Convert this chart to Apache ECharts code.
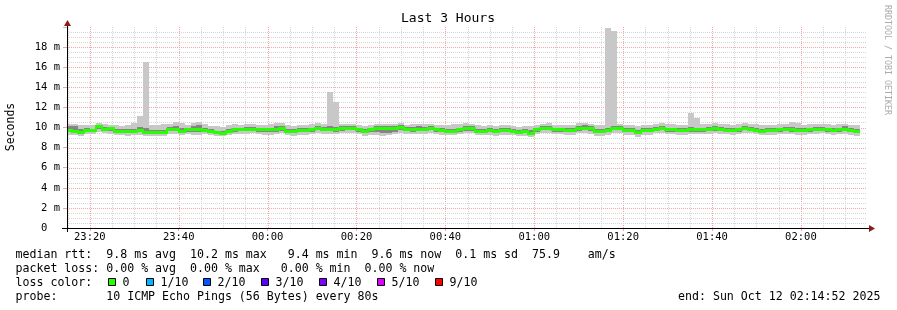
<!DOCTYPE html>
<html><head><meta charset="utf-8">
<script src="https://cdn.jsdelivr.net/npm/echarts@6/dist/echarts.min.js"></script>
<style>html,body{margin:0;padding:0;background:#fff}#c{width:897px;height:310px}</style>
</head><body><div id="c"></div>
<script>
// ---- data ----
const chartTitle = 'Last 3 Hours';
const yAxisName = 'Seconds';
const startMin = 14 + 52/60;          // 23:14:52 expressed as minutes after 23:00
const spanMin = 180;                   // 3 hours
const stepStartMin = 14 + 40/60;       // first 80 s RRD step boundary (23:14:40)
const stepMin = 80/60;                 // 80 s step
const xTickMinutes = [20,40,60,80,100,120,140,160,180];
const xTickLabels = ['23:20','23:40','00:00','00:20','00:40','01:00','01:20','01:40','02:00'];
const yTickLabels = {0:'0  ',2:'2 m',4:'4 m',6:'6 m',8:'8 m',10:'10 m',12:'12 m',14:'14 m',16:'16 m',18:'18 m',20:''};

const median = [
9.74,9.68,9.58,9.74,9.74,10.10,9.87,9.91,9.68,9.68,
9.64,9.64,9.74,9.56,9.56,9.58,9.58,9.87,9.87,9.68,
9.81,9.84,9.84,9.80,9.68,9.54,9.50,9.68,9.81,9.81,
9.87,9.87,9.81,9.81,9.81,9.81,9.91,9.68,9.68,9.74,
9.74,9.81,9.94,9.87,9.87,9.81,9.91,9.91,9.94,9.81,
9.64,9.81,10.00,10.00,10.00,10.00,10.07,9.87,9.87,9.87,
9.87,9.94,9.81,9.74,9.68,9.68,9.81,9.91,9.91,9.68,
9.68,9.74,9.64,9.74,9.74,9.68,9.54,9.64,9.50,9.81,
10.00,10.00,9.81,9.81,9.74,9.74,9.91,10.00,9.91,9.68,
9.64,9.74,10.00,10.00,9.74,9.74,9.54,9.74,9.74,9.87,
10.00,9.81,9.81,9.74,9.74,9.81,9.81,9.81,9.87,9.91,
9.87,9.80,9.74,9.81,9.94,9.87,9.80,9.68,9.74,9.74,
9.81,9.87,9.81,9.74,9.74,9.81,9.87,9.87,9.81,9.74,
9.81,9.87,9.74,9.64];
const smokeHi = [
10.30,10.35,10.25,10.20,10.25,10.40,10.30,10.25,10.20,10.15,
10.25,10.40,11.10,16.50,10.20,10.25,10.30,10.35,10.50,10.45,
10.25,10.40,10.50,10.35,10.15,10.10,10.05,10.20,10.30,10.25,
10.35,10.30,10.25,10.20,10.30,10.40,10.45,10.20,10.15,10.25,
10.20,10.30,10.40,10.35,13.50,12.50,10.35,10.30,10.35,10.25,
10.15,10.25,10.30,10.35,10.30,10.30,10.40,10.25,10.30,10.35,
10.30,10.35,10.25,10.20,10.25,10.30,10.35,10.40,10.35,10.20,
10.15,10.20,10.10,10.20,10.25,10.15,10.05,10.10,10.10,10.25,
10.35,10.40,10.25,10.20,10.20,10.25,10.40,10.45,10.35,10.25,
10.20,19.90,19.60,10.30,10.20,10.25,10.10,10.20,10.25,10.35,
10.40,10.30,10.35,10.25,10.25,11.40,10.90,10.30,10.35,10.40,
10.35,10.30,10.25,10.30,10.40,10.35,10.30,10.20,10.25,10.25,
10.30,10.35,10.50,10.45,10.25,10.30,10.35,10.35,10.30,10.25,
10.30,10.35,10.25,10.20];
const smokeHi2 = [
10.10,10.15,9.90,9.95,9.90,10.25,10.05,10.05,9.85,9.85,
9.85,9.90,10.05,9.95,9.80,9.75,9.80,10.05,10.15,10.00,
10.00,10.10,10.25,10.00,9.85,9.70,9.70,9.90,10.00,10.00,
10.05,10.05,10.00,9.95,10.00,10.10,10.15,9.90,9.85,9.95,
9.95,10.00,10.10,10.05,10.10,10.05,10.10,10.10,10.15,10.00,
9.85,10.00,10.15,10.15,10.15,10.15,10.20,10.05,10.05,10.10,
10.05,10.10,10.00,9.95,9.90,9.90,10.00,10.10,10.10,9.90,
9.90,9.95,9.85,9.95,9.95,9.85,9.75,9.85,9.75,10.00,
10.15,10.15,10.00,10.00,9.95,9.95,10.10,10.20,10.10,9.90,
9.85,9.95,10.15,10.15,9.95,9.95,9.80,9.95,9.95,10.05,
10.15,10.00,10.00,9.95,9.95,10.05,10.00,10.00,10.05,10.10,
10.05,10.00,9.95,10.00,10.15,10.05,10.00,9.90,9.95,9.95,
10.00,10.05,10.05,9.95,9.95,10.00,10.05,10.05,10.00,9.95,
10.00,10.10,9.95,9.85];
const smokeLo2 = [
9.55,9.45,9.40,9.60,9.60,9.85,9.70,9.70,9.50,9.50,
9.45,9.45,9.55,9.40,9.40,9.40,9.45,9.70,9.65,9.50,
9.60,9.60,9.55,9.60,9.50,9.40,9.35,9.50,9.60,9.65,
9.65,9.70,9.60,9.60,9.55,9.60,9.70,9.50,9.45,9.55,
9.55,9.60,9.75,9.70,9.65,9.60,9.70,9.75,9.75,9.60,
9.45,9.55,9.55,9.45,9.50,9.60,9.80,9.65,9.60,9.65,
9.65,9.75,9.60,9.55,9.45,9.50,9.60,9.70,9.70,9.50,
9.50,9.55,9.45,9.55,9.55,9.50,9.40,9.45,9.35,9.60,
9.75,9.75,9.60,9.60,9.55,9.55,9.70,9.75,9.65,9.45,
9.45,9.55,9.75,9.80,9.55,9.55,9.35,9.55,9.55,9.70,
9.80,9.60,9.60,9.55,9.55,9.60,9.60,9.60,9.65,9.70,
9.65,9.60,9.55,9.60,9.75,9.70,9.60,9.50,9.55,9.55,
9.60,9.65,9.60,9.55,9.55,9.60,9.65,9.70,9.60,9.55,
9.60,9.65,9.55,9.45];
const smokeLo = [
9.30,9.25,9.20,9.35,9.40,9.60,9.45,9.40,9.30,9.25,
9.20,9.25,9.30,9.20,9.15,9.20,9.20,9.40,9.35,9.25,
9.35,9.30,9.30,9.35,9.25,9.20,9.15,9.25,9.35,9.40,
9.40,9.45,9.35,9.30,9.30,9.35,9.45,9.25,9.20,9.30,
9.30,9.35,9.45,9.40,9.35,9.35,9.45,9.50,9.45,9.35,
9.20,9.30,9.25,9.20,9.25,9.35,9.50,9.40,9.35,9.40,
9.40,9.45,9.35,9.30,9.25,9.25,9.35,9.45,9.45,9.25,
9.25,9.30,9.20,9.30,9.30,9.25,9.15,9.20,9.10,9.35,
9.45,9.50,9.35,9.35,9.30,9.30,9.45,9.50,9.40,9.20,
9.20,9.30,9.45,9.50,9.30,9.30,9.10,9.30,9.30,9.45,
9.50,9.35,9.35,9.30,9.30,9.35,9.35,9.35,9.40,9.45,
9.40,9.35,9.30,9.35,9.50,9.45,9.35,9.25,9.30,9.30,
9.35,9.40,9.35,9.30,9.30,9.35,9.40,9.45,9.35,9.30,
9.35,9.40,9.30,9.20];

const legendLines = [
  'median rtt:  9.8 ms avg  10.2 ms max   9.4 ms min  9.6 ms now  0.1 ms sd  75.9    am/s',
  'packet loss: 0.00 % avg  0.00 % max   0.00 % min  0.00 % now',
  'loss color:',
  'probe:       10 ICMP Echo Pings (56 Bytes) every 80s'
];
const lossLabels = ['0','1/10','2/10','3/10','4/10','5/10','9/10'];
const lossColors = ['#26ff00','#00b8ff','#0059ff','#5e00ff','#7e00ff','#dd00ff','#ff0000'];
const endText = 'end: Sun Oct 12 02:14:52 2025';
const sideText = 'RRDTOOL / TOBI OETIKER';

// ---- layout ----
const L = 67, R = 867, T = 27, B = 228;
const MONO = '"DejaVu Sans Mono", monospace';
const GRID_C = '#d6d6d6', MGRID_C = '#f4a6a6';

const endMin = startMin + spanMin;
const steps = median.map((m, i) => {
  const t0 = Math.max(startMin, stepStartMin + i * stepMin);
  const t1 = stepStartMin + (i + 1) * stepMin;
  return { t0, t1, i };
});
const outerData = steps.map(s => [s.t0, s.t1, smokeLo[s.i], smokeHi[s.i]]);
const innerData = steps.map(s => [s.t0, s.t1, smokeLo2[s.i], smokeHi2[s.i]]);
const medData = steps.map(s => [s.t0, s.t1, median[s.i], median[Math.min(s.i + 1, median.length - 1)]]);

const vGrid = [];
for (let m = 15; m < endMin; m += 5) vGrid.push(m);
const hGrid = [];
for (let v = 0.5; v < 20; v += 0.5) hGrid.push(v);

function bandRender(color) {
  return function (params, api) {
    const p0 = api.coord([api.value(0), api.value(3)]);
    const p1 = api.coord([api.value(1), api.value(2)]);
    const x0 = Math.round(p0[0]), x1 = Math.round(p1[0]);
    const y0 = Math.round(p0[1]), y1 = Math.round(p1[1]);
    return { type: 'rect', shape: { x: x0, y: y0, width: x1 - x0, height: Math.max(1, y1 - y0) },
      style: { fill: color } };
  };
}

const chart = echarts.init(document.getElementById('c'), null, { renderer: 'canvas' });
const option = {
  animation: false,
  backgroundColor: '#ffffff',
  grid: { left: L, right: 897 - R, top: T, bottom: 310 - B, containLabel: false },
  xAxis: {
    type: 'value', min: startMin, max: endMin,
    axisLine: { show: false }, splitLine: { show: false },
    axisTick: { show: true, customValues: xTickMinutes, length: 3, lineStyle: { color: MGRID_C } },
    axisLabel: {
      customValues: xTickMinutes, margin: 4, color: '#000', fontFamily: MONO, fontSize: 10.5,
      formatter: v => { const k = xTickMinutes.indexOf(Math.round(v)); return k >= 0 ? xTickLabels[k] : ''; }
    }
  },
  yAxis: {
    type: 'value', min: 0, max: 20, interval: 2,
    axisLine: { show: false }, splitLine: { show: false },
    axisTick: { show: true, length: 4, lineStyle: { color: MGRID_C } },
    axisLabel: { margin: 7, color: '#000', fontFamily: MONO, fontSize: 10.5,
      formatter: v => (yTickLabels[v] !== undefined ? yTickLabels[v] : '') }
  },
  series: [
    { type: 'custom', name: 'vgrid', z: 1, silent: true, data: vGrid, encode: { x: 0 },
      renderItem: (params, api) => {
        const m = api.value(0);
        const x = Math.round(api.coord([m, 0])[0]) + 0.5;
        const cs = params.coordSys;
        return { type: 'line', shape: { x1: x, y1: cs.y, x2: x, y2: cs.y + cs.height },
          style: { stroke: (Math.round(m) % 20 === 0) ? MGRID_C : GRID_C, lineWidth: 1, lineDash: [1, 1] } };
      } },
    { type: 'custom', name: 'hgrid', z: 1, silent: true, data: hGrid, encode: { y: 0 },
      renderItem: (params, api) => {
        const v = api.value(0);
        const y = Math.round(api.coord([startMin, v])[1]) + 0.5;
        const cs = params.coordSys;
        return { type: 'line', shape: { x1: cs.x, y1: y, x2: cs.x + cs.width, y2: y },
          style: { stroke: (Math.abs(v % 2) < 1e-9) ? MGRID_C : GRID_C, lineWidth: 1, lineDash: [1, 1] } };
      } },
    { type: 'custom', name: 'smoke outer', z: 2, silent: true, data: outerData,
      encode: { x: [0, 1], y: [2, 3] }, renderItem: bandRender('#c8c8c8') },
    { type: 'custom', name: 'smoke inner', z: 3, silent: true, data: innerData,
      encode: { x: [0, 1], y: [2, 3] }, renderItem: bandRender('#858585') },
    { type: 'custom', name: 'median rtt', z: 4, silent: true, data: medData,
      encode: { x: [0, 1], y: [2, 3] },
      renderItem: (params, api) => {
        const xa = Math.round(api.coord([api.value(0), 0])[0]);
        const xb = Math.round(api.coord([api.value(1), 0])[0]);
        const y = Math.round(api.coord([startMin, api.value(2)])[1]);
        const yn = Math.round(api.coord([startMin, api.value(3)])[1]);
        const ch = [{ type: 'rect', shape: { x: xa, y: y - 1, width: xb - xa, height: 3 }, style: { fill: lossColors[0] } }];
        if (yn !== y) ch.push({ type: 'rect', shape: { x: xb - 1, y: Math.min(y, yn) - 1, width: 2, height: Math.abs(yn - y) + 3 }, style: { fill: lossColors[0] } });
        return { type: 'group', children: ch };
      } }
  ],
  graphic: (function () {
    const g = [];
    g.push({ type: 'text', x: 448, y: 19, style: { text: chartTitle, font: '13px ' + MONO, fill: '#000', align: 'center', verticalAlign: 'middle' } });
    g.push({ type: 'text', x: 11, y: 127, rotation: Math.PI / 2, style: { text: yAxisName, font: '11.5px ' + MONO, fill: '#000', align: 'center', verticalAlign: 'middle' } });
    g.push({ type: 'text', x: 887.5, y: 60, rotation: -Math.PI / 2, style: { text: sideText, font: '8.3px ' + MONO, fill: '#aaaaaa', align: 'center', verticalAlign: 'middle' } });
    // axes
    g.push({ type: 'line', z: 100, shape: { x1: 62, y1: B + 0.5, x2: 870, y2: B + 0.5 }, style: { stroke: '#000', lineWidth: 1 } });
    g.push({ type: 'line', z: 100, shape: { x1: L + 0.5, y1: B + 4, x2: L + 0.5, y2: 24 }, style: { stroke: '#000', lineWidth: 1 } });
    g.push({ type: 'polygon', z: 101, shape: { points: [[869, 225], [875, 228.5], [869, 232]] }, style: { fill: '#8b1a1a' } });
    g.push({ type: 'polygon', z: 101, shape: { points: [[64, 26], [67.5, 20], [71, 26]] }, style: { fill: '#8b1a1a' } });
    // legend
    const ys = [254.5, 268.5, 282.5, 296.5];
    legendLines.forEach((t, k) => g.push({ type: 'text', x: 15.5, y: ys[k], style: { text: t, font: '11.6px ' + MONO, fill: '#000', align: 'left', verticalAlign: 'middle' } }));
    const boxX = [108, 146, 203, 261, 319, 377, 435];
    lossLabels.forEach((lab, k) => {
      g.push({ type: 'rect', shape: { x: boxX[k] + 0.5, y: 278.5, width: 7, height: 7 }, style: { fill: lossColors[k], stroke: '#000', lineWidth: 1 } });
      g.push({ type: 'text', x: boxX[k] + 14.5, y: ys[2], style: { text: lab, font: '11.6px ' + MONO, fill: '#000', align: 'left', verticalAlign: 'middle' } });
    });
    g.push({ type: 'text', x: 678, y: ys[3], style: { text: endText, font: '11.6px ' + MONO, fill: '#000', align: 'left', verticalAlign: 'middle' } });
    return g;
  })()
};
chart.setOption(option);
</script>
</body></html>
